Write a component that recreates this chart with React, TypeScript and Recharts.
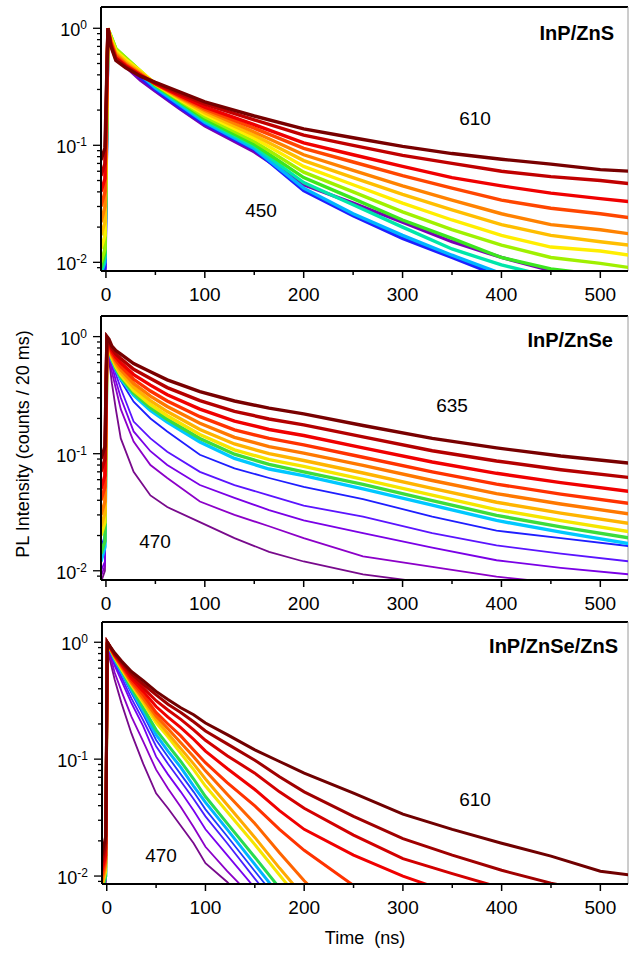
import { LineChart, Line, XAxis, YAxis, ReferenceLine } from 'recharts';

// ---------- InP/ZnS (top panel), 450 -> 610 nm ----------
const ZNS_TIMES = [-5, -1, 2, 5, 10, 20, 35, 50, 75, 100, 150, 200, 250, 300, 350, 400, 450, 500, 530];
const ZNS_VIOLET = [0.006, 0.008, 0.95, 0.78, 0.59, 0.47, 0.36, 0.29, 0.205, 0.147, 0.088, 0.046, 0.032, 0.022, 0.015, 0.011, 0.0085, 0.0075, 0.007];
const ZNS_BLUE = [0.007, 0.009, 0.96, 0.8, 0.61, 0.5, 0.38, 0.3, 0.21, 0.152, 0.092, 0.041, 0.025, 0.016, 0.011, 0.0075, 0.006, 0.0055, 0.005];
const ZNS_CYAN = [0.008, 0.01, 0.97, 0.82, 0.63, 0.52, 0.4, 0.31, 0.22, 0.157, 0.094, 0.043, 0.026, 0.017, 0.0115, 0.008, 0.0065, 0.0058, 0.0053];
const ZNS_AQUA = [0.008, 0.011, 0.98, 0.84, 0.65, 0.54, 0.42, 0.32, 0.23, 0.163, 0.098, 0.048, 0.031, 0.02, 0.013, 0.0095, 0.0075, 0.0068, 0.0062];
const ZNS_GREEN = [0.009, 0.012, 0.99, 0.86, 0.67, 0.56, 0.43, 0.325, 0.235, 0.168, 0.102, 0.053, 0.035, 0.023, 0.016, 0.011, 0.0088, 0.0078, 0.0072];
const ZNS_YGREEN = [0.01, 0.013, 0.99, 0.86, 0.67, 0.56, 0.43, 0.33, 0.24, 0.175, 0.108, 0.059, 0.04, 0.027, 0.019, 0.014, 0.011, 0.0098, 0.009];
const ZNS_YELLOW = [0.013, 0.017, 1.0, 0.83, 0.64, 0.54, 0.43, 0.335, 0.245, 0.183, 0.115, 0.066, 0.046, 0.032, 0.023, 0.017, 0.0135, 0.0125, 0.0115];
const ZNS_AMBER = [0.017, 0.022, 1.0, 0.8, 0.62, 0.52, 0.42, 0.335, 0.25, 0.19, 0.122, 0.074, 0.053, 0.038, 0.028, 0.021, 0.017, 0.015, 0.014];
const ZNS_ORANGE = [0.022, 0.03, 1.0, 0.78, 0.6, 0.5, 0.41, 0.335, 0.255, 0.198, 0.13, 0.083, 0.061, 0.045, 0.034, 0.026, 0.021, 0.019, 0.0175];
const ZNS_REDORANGE = [0.03, 0.04, 1.0, 0.76, 0.58, 0.49, 0.4, 0.335, 0.26, 0.205, 0.14, 0.094, 0.072, 0.055, 0.043, 0.034, 0.029, 0.026, 0.024];
const ZNS_RED = [0.04, 0.052, 1.0, 0.74, 0.56, 0.48, 0.4, 0.335, 0.265, 0.212, 0.15, 0.105, 0.083, 0.066, 0.053, 0.045, 0.039, 0.035, 0.033];
const ZNS_DARKRED = [0.055, 0.07, 1.0, 0.72, 0.55, 0.47, 0.39, 0.34, 0.275, 0.225, 0.165, 0.122, 0.1, 0.082, 0.07, 0.06, 0.054, 0.05, 0.047];
const ZNS_DARKEST = [0.075, 0.095, 1.0, 0.7, 0.53, 0.46, 0.39, 0.345, 0.285, 0.235, 0.178, 0.138, 0.116, 0.098, 0.085, 0.076, 0.069, 0.062, 0.06];
const ZNS_CURVES = [ZNS_VIOLET, ZNS_BLUE, ZNS_CYAN, ZNS_AQUA, ZNS_GREEN, ZNS_YGREEN, ZNS_YELLOW, ZNS_AMBER, ZNS_ORANGE, ZNS_REDORANGE, ZNS_RED, ZNS_DARKRED, ZNS_DARKEST];
const ZNS_COLORS = ['#7800b4', '#1e1eff', '#00b4ff', '#00e6aa', '#3ce61e', '#a0f000', '#ffee00', '#ffbe00', '#ff8200', '#ff4600', '#f00000', '#c00000', '#780000'];

// ---------- InP/ZnSe (middle panel), 470 -> 635 nm ----------
const ZNSE_TIMES = [-5, -1, 1, 3, 6, 10, 15, 28, 45, 62, 95, 130, 165, 200, 260, 330, 395, 460, 530];
const ZNSE_DPURPLE = [0.008, 0.01, 0.82, 0.65, 0.4, 0.24, 0.135, 0.07, 0.044, 0.035, 0.026, 0.019, 0.0145, 0.012, 0.0093, 0.0078, 0.0068, 0.006, 0.0052];
const ZNSE_PURPLE = [0.009, 0.011, 0.83, 0.7, 0.5, 0.36, 0.24, 0.127, 0.08, 0.062, 0.039, 0.03, 0.024, 0.019, 0.0133, 0.0108, 0.0089, 0.0078, 0.0068];
const ZNSE_PVIOLET = [0.01, 0.012, 0.84, 0.74, 0.57, 0.42, 0.3, 0.155, 0.105, 0.08, 0.054, 0.042, 0.033, 0.027, 0.021, 0.0158, 0.0123, 0.0106, 0.0093];
const ZNSE_VIOLET = [0.012, 0.015, 0.85, 0.76, 0.62, 0.48, 0.36, 0.188, 0.135, 0.104, 0.07, 0.054, 0.044, 0.036, 0.029, 0.021, 0.0165, 0.014, 0.012];
const ZNSE_BLUE = [0.016, 0.02, 0.85, 0.78, 0.64, 0.52, 0.42, 0.278, 0.2, 0.155, 0.098, 0.075, 0.062, 0.052, 0.041, 0.029, 0.022, 0.019, 0.0162];
const ZNSE_CYAN = [0.012, 0.016, 0.86, 0.79, 0.63, 0.525, 0.436, 0.316, 0.234, 0.186, 0.126, 0.091, 0.074, 0.065, 0.05, 0.0363, 0.0269, 0.0214, 0.017];
const ZNSE_GREEN = [0.014, 0.018, 0.87, 0.8, 0.645, 0.54, 0.452, 0.33, 0.247, 0.197, 0.135, 0.099, 0.081, 0.07, 0.0547, 0.0398, 0.0297, 0.0237, 0.019];
const ZNSE_YELLOW = [0.02, 0.026, 0.88, 0.82, 0.66, 0.555, 0.47, 0.347, 0.263, 0.211, 0.146, 0.108, 0.089, 0.078, 0.0604, 0.0442, 0.0333, 0.0268, 0.0215];
const ZNSE_AMBER = [0.024, 0.031, 0.9, 0.83, 0.675, 0.575, 0.493, 0.37, 0.284, 0.229, 0.161, 0.121, 0.1, 0.0875, 0.0684, 0.0505, 0.0385, 0.0311, 0.0253];
const ZNSE_ORANGE = [0.03, 0.039, 0.92, 0.85, 0.7, 0.6, 0.522, 0.398, 0.31, 0.253, 0.182, 0.138, 0.115, 0.101, 0.0794, 0.059, 0.0456, 0.0372, 0.0305];
const ZNSE_REDORANGE = [0.04, 0.052, 0.94, 0.87, 0.72, 0.63, 0.556, 0.432, 0.343, 0.282, 0.207, 0.16, 0.135, 0.119, 0.0933, 0.07, 0.055, 0.0452, 0.0376];
const ZNSE_RED = [0.05, 0.065, 0.96, 0.9, 0.755, 0.667, 0.597, 0.474, 0.385, 0.319, 0.24, 0.19, 0.161, 0.143, 0.112, 0.085, 0.068, 0.0566, 0.0476];
const ZNSE_DARKRED = [0.07, 0.09, 0.98, 0.92, 0.79, 0.71, 0.649, 0.526, 0.438, 0.367, 0.284, 0.23, 0.198, 0.176, 0.139, 0.106, 0.0867, 0.073, 0.0625];
const ZNSE_DARKEST = [0.09, 0.115, 1.0, 0.95, 0.83, 0.76, 0.708, 0.589, 0.501, 0.427, 0.339, 0.282, 0.245, 0.219, 0.174, 0.135, 0.112, 0.0955, 0.083];
const ZNSE_CURVES = [ZNSE_DPURPLE, ZNSE_PURPLE, ZNSE_PVIOLET, ZNSE_VIOLET, ZNSE_BLUE, ZNSE_CYAN, ZNSE_GREEN, ZNSE_YELLOW, ZNSE_AMBER, ZNSE_ORANGE, ZNSE_REDORANGE, ZNSE_RED, ZNSE_DARKRED, ZNSE_DARKEST];
const ZNSE_COLORS = ['#780a8c', '#8c00c8', '#7a00e6', '#5a14ff', '#1e1eff', '#00c8ff', '#3cdc3c', '#f5e600', '#ffb400', '#ff7800', '#ff3200', '#f00000', '#b40000', '#780000'];

// ---------- InP/ZnSe/ZnS (bottom panel), 470 -> 610 nm ----------
const ZSS_TIMES = [-5, -1, 0.5, 3, 8, 15, 25, 37, 50, 62, 75, 88, 100, 122, 150, 175, 200, 250, 300, 350, 400, 450, 500, 530];
const ZSS_DPURPLE = [0.006, 0.009, 0.97, 0.72, 0.48, 0.3, 0.166, 0.091, 0.051, 0.038, 0.0269, 0.0191, 0.0129, 0.0089, 0.005, null, null, null, null, null, null, null, null, null];
const ZSS_PURPLE = [0.006, 0.009, 0.97, 0.79, 0.55, 0.38, 0.231, 0.141, 0.0813, 0.0562, 0.0389, 0.0263, 0.0178, 0.011, 0.0063, null, null, null, null, null, null, null, null, null];
const ZSS_VIOLET = [0.007, 0.01, 0.98, 0.82, 0.631, 0.468, 0.302, 0.191, 0.105, 0.0741, 0.0525, 0.0363, 0.0251, 0.0151, 0.0079, null, null, null, null, null, null, null, null, null];
const ZSS_BVIOLET = [0.007, 0.01, 0.98, 0.85, 0.661, 0.501, 0.331, 0.214, 0.129, 0.0912, 0.0646, 0.0457, 0.0324, 0.0191, 0.0095, 0.0052, null, null, null, null, null, null, null, null];
const ZSS_BLUE = [0.007, 0.01, 0.99, 0.87, 0.692, 0.537, 0.367, 0.24, 0.146, 0.105, 0.0741, 0.0525, 0.0372, 0.0219, 0.011, 0.006, null, null, null, null, null, null, null, null];
const ZSS_CYAN = [0.007, 0.01, 0.99, 0.88, 0.708, 0.556, 0.389, 0.257, 0.162, 0.117, 0.0851, 0.0589, 0.0427, 0.0251, 0.0126, 0.0068, null, null, null, null, null, null, null, null];
const ZSS_GREEN = [0.007, 0.01, 0.99, 0.89, 0.724, 0.575, 0.407, 0.275, 0.178, 0.132, 0.0955, 0.0676, 0.0479, 0.0282, 0.0145, 0.0079, null, null, null, null, null, null, null, null];
const ZSS_YELLOW = [0.008, 0.011, 1.0, 0.9, 0.741, 0.589, 0.432, 0.302, 0.204, 0.155, 0.112, 0.0813, 0.0589, 0.0355, 0.0186, 0.0102, 0.0056, null, null, null, null, null, null, null];
const ZSS_AMBER = [0.008, 0.012, 1.0, 0.9, 0.75, 0.603, 0.442, 0.316, 0.219, 0.166, 0.123, 0.0912, 0.0676, 0.0407, 0.0214, 0.0117, 0.0066, null, null, null, null, null, null, null];
const ZSS_ORANGE = [0.009, 0.013, 1.0, 0.91, 0.759, 0.617, 0.452, 0.331, 0.234, 0.182, 0.138, 0.105, 0.0794, 0.0501, 0.0282, 0.0158, 0.0091, 0.0035, null, null, null, null, null, null];
const ZSS_REDORANGE = [0.01, 0.014, 1.0, 0.91, 0.767, 0.631, 0.468, 0.355, 0.251, 0.2, 0.158, 0.12, 0.0933, 0.0631, 0.0398, 0.0251, 0.0166, 0.0083, 0.005, null, null, null, null, null];
const ZSS_RED = [0.011, 0.015, 1.0, 0.92, 0.776, 0.646, 0.49, 0.38, 0.282, 0.229, 0.186, 0.148, 0.117, 0.0832, 0.055, 0.0363, 0.0251, 0.0151, 0.01, 0.0071, null, null, null, null];
const ZSS_RED2 = [0.012, 0.017, 1.0, 0.92, 0.786, 0.661, 0.513, 0.407, 0.316, 0.263, 0.219, 0.178, 0.145, 0.107, 0.0759, 0.0525, 0.038, 0.0224, 0.0141, 0.0105, 0.0079, 0.0063, null, null];
const ZSS_DARKRED = [0.013, 0.019, 1.0, 0.93, 0.794, 0.676, 0.537, 0.437, 0.355, 0.295, 0.251, 0.209, 0.174, 0.135, 0.098, 0.0708, 0.0525, 0.0324, 0.0209, 0.0151, 0.0112, 0.0087, 0.0071, 0.0063];
const ZSS_DARKEST = [0.015, 0.022, 1.0, 0.93, 0.813, 0.692, 0.562, 0.468, 0.38, 0.324, 0.275, 0.24, 0.204, 0.162, 0.12, 0.0955, 0.0759, 0.0513, 0.0339, 0.0251, 0.0191, 0.0148, 0.011, 0.0102];
const ZSS_CURVES = [ZSS_DPURPLE, ZSS_PURPLE, ZSS_VIOLET, ZSS_BVIOLET, ZSS_BLUE, ZSS_CYAN, ZSS_GREEN, ZSS_YELLOW, ZSS_AMBER, ZSS_ORANGE, ZSS_REDORANGE, ZSS_RED, ZSS_RED2, ZSS_DARKRED, ZSS_DARKEST];
const ZSS_COLORS = ['#780a8c', '#8c00c8', '#7800f0', '#4a1eff', '#1e3cff', '#00b4ff', '#28dc50', '#f5e600', '#ffaa00', '#ff6400', '#ff3200', '#f00000', '#d20000', '#a00000', '#700000'];

// axis ticks
const X_TICKS = [0, 50, 100, 150, 200, 250, 300, 350, 400, 450, 500];
const Y_TICKS = [0.009, 0.01, 0.02, 0.03, 0.04, 0.05, 0.06, 0.07, 0.08, 0.09, 0.1, 0.2, 0.3, 0.4, 0.5, 0.6, 0.7, 0.8, 0.9, 1];
const Y_EXP = new Map<number, string>([[1, '0'], [0.1, '-1'], [0.01, '-2']]);

const FONT = '"Liberation Sans", Arial, sans-serif';

function buildRows(times: number[], curves: (number | null)[][]) {
    return times.map((t, i) => {
        const row: Record<string, number | null> = { t };
        curves.forEach((c, k) => {
            row['c' + k] = c[i];
        });
        return row;
    });
}

const XTick = ({ x, y, payload }: any) => {
    const v = payload.value;
    const major = v % 100 === 0;
    return (
        <g>
            <line x1={x} x2={x} y1={y} y2={y + (major ? 7 : 4)} stroke="#000" strokeWidth={1.5} />
            {major && (
                <text x={x} y={y + 30} textAnchor="middle" fontSize={19} fontFamily={FONT} fill="#000">
                    {v}
                </text>
            )}
        </g>
    );
};

const YTick = ({ x, y, payload }: any) => {
    const exp = Y_EXP.get(payload.value);
    return (
        <g>
            <line x1={x - (exp ? 8 : 4)} x2={x} y1={y} y2={y} stroke="#000" strokeWidth={1.3} />
            {exp && (
                <text x={x - 14} y={y + 8} textAnchor="end" fontSize={18} fontFamily={FONT} fill="#000">
                    <tspan>10</tspan>
                    <tspan dy={-7} fontSize={12}>{exp}</tspan>
                </text>
            )}
        </g>
    );
};

type PanelProps = {
    top: number;
    height: number;
    left: number;
    xDomain: [number, number];
    yDomain: [number, number];
    times: number[];
    curves: (number | null)[][];
    colors: string[];
    thinCount: number;
    bandWidth: number;
};

function Panel({ top, height, left, xDomain, yDomain, times, curves, colors, thinCount, bandWidth }: PanelProps) {
    const rows = buildRows(times, curves);
    return (
        <div style={{ position: 'absolute', left: 0, top }}>
            <LineChart width={629} height={height} data={rows} margin={{ top: 7, right: 1, bottom: 0, left }}>
                <XAxis
                    type="number"
                    dataKey="t"
                    domain={xDomain}
                    allowDataOverflow
                    ticks={X_TICKS}
                    interval={0}
                    tick={(p: any) => <XTick {...p} />}
                    tickLine={false}
                    tickSize={0}
                    tickMargin={0}
                    height={36}
                    axisLine={{ stroke: '#000', strokeWidth: 2 }}
                />
                <YAxis
                    type="number"
                    scale="log"
                    domain={yDomain}
                    allowDataOverflow
                    ticks={Y_TICKS}
                    interval={0}
                    tick={(p: any) => <YTick {...p} />}
                    tickLine={false}
                    tickSize={0}
                    tickMargin={0}
                    width={60}
                    axisLine={{ stroke: '#000', strokeWidth: 2 }}
                />
                <ReferenceLine y={yDomain[1]} stroke="#000" strokeWidth={2} />
                <ReferenceLine x={xDomain[1]} stroke="#9a9a9a" strokeWidth={1} />
                {curves.map((_, k) => (
                    <Line
                        key={k}
                        type="linear"
                        dataKey={'c' + k}
                        stroke={colors[k]}
                        strokeWidth={k < thinCount ? 1.8 : bandWidth}
                        dot={false}
                        activeDot={false}
                        connectNulls={false}
                        isAnimationActive={false}
                    />
                ))}
            </LineChart>
        </div>
    );
}

export default function App() {
    return (
        <div style={{ position: 'absolute', left: 0, top: 0, width: 629, height: 953, background: '#fff', fontFamily: FONT }}>
            <Panel top={0} height={307} left={41} xDomain={[-5, 528]} yDomain={[0.00843, 1.52]} times={ZNS_TIMES} curves={ZNS_CURVES} colors={ZNS_COLORS} thinCount={0} bandWidth={3.4} />
            <Panel top={309} height={307} left={41} xDomain={[-5, 528]} yDomain={[0.00834, 1.5]} times={ZNSE_TIMES} curves={ZNSE_CURVES} colors={ZNSE_COLORS} thinCount={5} bandWidth={3.4} />
            <Panel top={615} height={305} left={42} xDomain={[-4.8, 528]} yDomain={[0.00855, 1.49]} times={ZSS_TIMES} curves={ZSS_CURVES} colors={ZSS_COLORS} thinCount={5} bandWidth={3} />
            <svg width={629} height={953} style={{ position: 'absolute', left: 0, top: 0, pointerEvents: 'none' }}>
                <g fontFamily={FONT} fill="#000">
                    <text x={614} y={40} textAnchor="end" fontSize={20} fontWeight="bold">InP/ZnS</text>
                    <text x={475} y={125} textAnchor="middle" fontSize={19}>610</text>
                    <text x={261} y={217} textAnchor="middle" fontSize={19}>450</text>
                    <text x={613} y={347} textAnchor="end" fontSize={20} fontWeight="bold">InP/ZnSe</text>
                    <text x={452} y={412} textAnchor="middle" fontSize={19}>635</text>
                    <text x={155} y={548} textAnchor="middle" fontSize={19}>470</text>
                    <text x={618} y={653} textAnchor="end" fontSize={20} fontWeight="bold">InP/ZnSe/ZnS</text>
                    <text x={475} y={806} textAnchor="middle" fontSize={19}>610</text>
                    <text x={161} y={862} textAnchor="middle" fontSize={19}>470</text>
                    <text transform="translate(29,444) rotate(-90)" textAnchor="middle" fontSize={18}>
                        PL Intensity (counts / 20 ms)
                    </text>
                    <text x={365} y={944} textAnchor="middle" fontSize={18} style={{ whiteSpace: 'pre' }}>
                        Time  (ns)
                    </text>
                </g>
            </svg>
        </div>
    );
}
